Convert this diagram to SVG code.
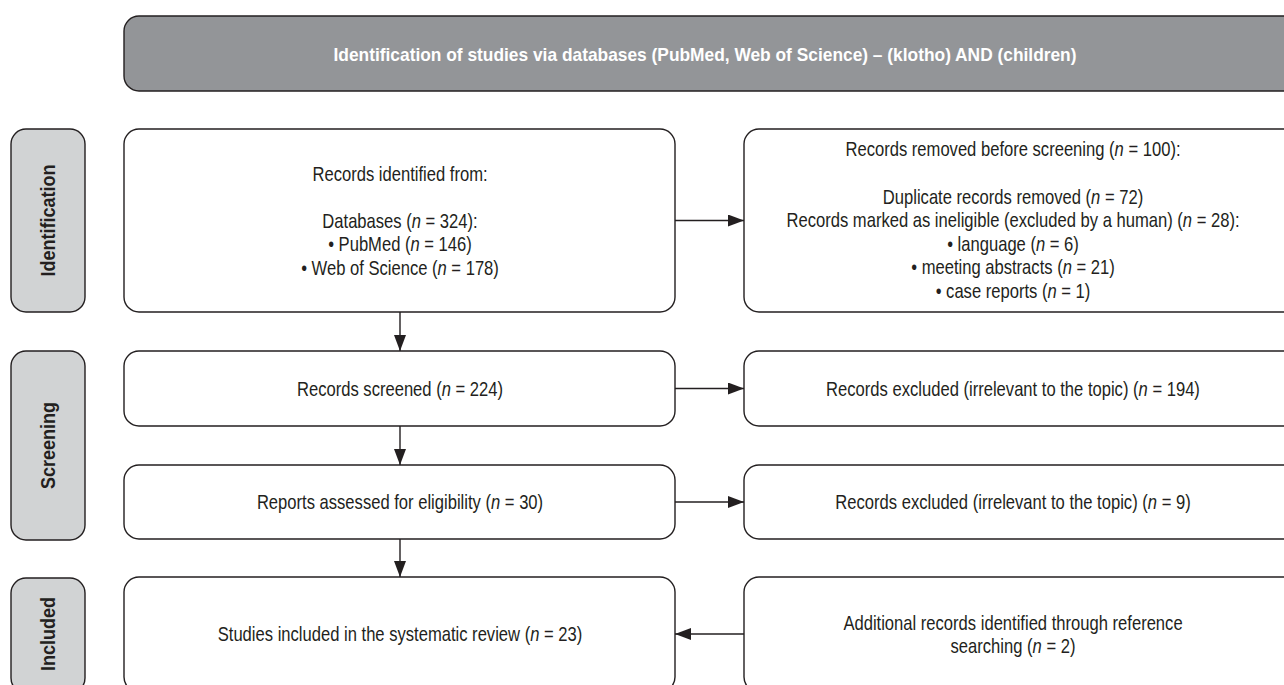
<svg xmlns="http://www.w3.org/2000/svg" width="1284" height="685" viewBox="0 0 1284 685">
<defs>
<style>
.box{fill:#ffffff;stroke:#231f20;stroke-width:1.4}
.side{fill:#d1d3d4;stroke:#231f20;stroke-width:1.4}
.head{fill:#939598;stroke:#231f20;stroke-width:1.4}
.t{font-family:"Liberation Sans",Arial,sans-serif;font-size:20px;fill:#231f20;text-anchor:middle}
.b{font-family:"Liberation Sans",Arial,sans-serif;font-weight:bold;text-anchor:middle}
.i{font-style:italic}
.conn{stroke:#231f20;stroke-width:1.4;fill:none}
</style>
<marker id="arr" viewBox="0 0 16 12" refX="16" refY="6" markerWidth="16" markerHeight="12" markerUnits="userSpaceOnUse" orient="auto">
<path d="M0,0 L16,6 L0,12 z" fill="#231f20"/>
</marker>
</defs>

<g id="header">
<rect class="head" x="124" y="16" width="1175" height="75" rx="15"/>
<text class="b" x="705" y="60.5" font-size="19" fill="#ffffff" textLength="743" lengthAdjust="spacingAndGlyphs">Identification of studies via databases (PubMed, Web of Science) – (klotho) AND (children)</text>
</g>

<g id="side-identification">
<rect class="side" x="11" y="129" width="74" height="183" rx="15"/>
<text class="b" font-size="20" fill="#231f20" transform="translate(55,220.5) rotate(-90) scale(0.9,1)">Identification</text>
</g>
<g id="side-screening">
<rect class="side" x="11" y="351" width="74" height="189" rx="15"/>
<text class="b" font-size="20" fill="#231f20" transform="translate(55,445.5) rotate(-90) scale(0.9,1)">Screening</text>
</g>
<g id="side-included">
<rect class="side" x="11" y="578" width="74" height="115" rx="15"/>
<text class="b" font-size="20" fill="#231f20" transform="translate(55,634) rotate(-90) scale(0.9,1)">Included</text>
</g>

<g id="records-identified">
<rect class="box" x="124" y="129" width="551" height="183" rx="15"/>
<text class="t" transform="translate(400,180.5) scale(0.83,1)">Records identified from:</text>
<text class="t" transform="translate(400,227.5) scale(0.83,1)">Databases (<tspan class="i">n</tspan> = 324):</text>
<text class="t" transform="translate(400,251) scale(0.83,1)">• PubMed (<tspan class="i">n</tspan> = 146)</text>
<text class="t" transform="translate(400,274.5) scale(0.83,1)">• Web of Science (<tspan class="i">n</tspan> = 178)</text>
</g>

<g id="records-removed">
<rect class="box" x="744" y="129" width="555" height="183" rx="15"/>
<text class="t" transform="translate(1013,156) scale(0.83,1)">Records removed before screening (<tspan class="i">n</tspan> = 100):</text>
<text class="t" transform="translate(1013,203.5) scale(0.83,1)">Duplicate records removed (<tspan class="i">n</tspan> = 72)</text>
<text class="t" transform="translate(1013,227) scale(0.83,1)">Records marked as ineligible (excluded by a human) (<tspan class="i">n</tspan> = 28):</text>
<text class="t" transform="translate(1013,250.5) scale(0.83,1)">• language (<tspan class="i">n</tspan> = 6)</text>
<text class="t" transform="translate(1013,274) scale(0.83,1)">• meeting abstracts (<tspan class="i">n</tspan> = 21)</text>
<text class="t" transform="translate(1013,297.5) scale(0.83,1)">• case reports (<tspan class="i">n</tspan> = 1)</text>
</g>

<g id="records-screened">
<rect class="box" x="124" y="351" width="551" height="75" rx="15"/>
<text class="t" transform="translate(400,395.5) scale(0.83,1)">Records screened (<tspan class="i">n</tspan> = 224)</text>
</g>

<g id="records-excluded-1">
<rect class="box" x="744" y="351" width="555" height="75" rx="15"/>
<text class="t" transform="translate(1013,395.5) scale(0.83,1)">Records excluded (irrelevant to the topic) (<tspan class="i">n</tspan> = 194)</text>
</g>

<g id="reports-assessed">
<rect class="box" x="124" y="465" width="551" height="74" rx="15"/>
<text class="t" transform="translate(400,509) scale(0.83,1)">Reports assessed for eligibility (<tspan class="i">n</tspan> = 30)</text>
</g>

<g id="records-excluded-2">
<rect class="box" x="744" y="465" width="555" height="74" rx="15"/>
<text class="t" transform="translate(1013,509) scale(0.83,1)">Records excluded (irrelevant to the topic) (<tspan class="i">n</tspan> = 9)</text>
</g>

<g id="studies-included">
<rect class="box" x="124" y="577" width="551" height="115" rx="15"/>
<text class="t" transform="translate(400,641) scale(0.83,1)">Studies included in the systematic review (<tspan class="i">n</tspan> = 23)</text>
</g>

<g id="additional-records">
<rect class="box" x="744" y="577" width="555" height="115" rx="15"/>
<text class="t" transform="translate(1013,629.5) scale(0.83,1)">Additional records identified through reference</text>
<text class="t" transform="translate(1013,653) scale(0.83,1)">searching (<tspan class="i">n</tspan> = 2)</text>
</g>

<g id="connectors">
<line class="conn" x1="675" y1="220.5" x2="744" y2="220.5" marker-end="url(#arr)"/>
<line class="conn" x1="400" y1="312" x2="400" y2="351" marker-end="url(#arr)"/>
<line class="conn" x1="675" y1="388.5" x2="744" y2="388.5" marker-end="url(#arr)"/>
<line class="conn" x1="400" y1="426" x2="400" y2="465" marker-end="url(#arr)"/>
<line class="conn" x1="675" y1="502" x2="744" y2="502" marker-end="url(#arr)"/>
<line class="conn" x1="400" y1="539" x2="400" y2="577" marker-end="url(#arr)"/>
<line class="conn" x1="744" y1="634" x2="675" y2="634" marker-end="url(#arr)"/>
</g>
</svg>
